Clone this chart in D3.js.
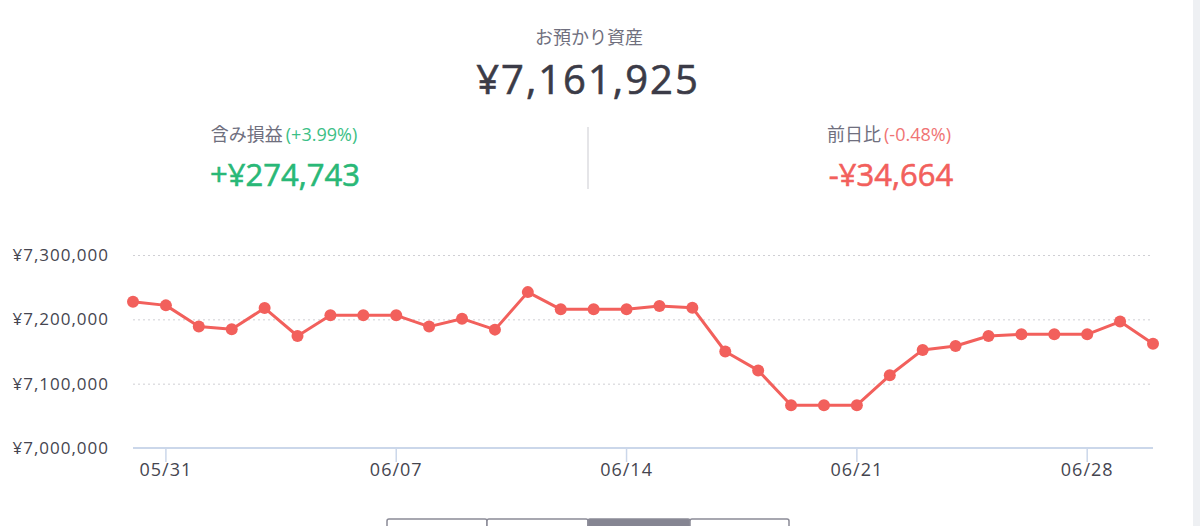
<!DOCTYPE html>
<html>
<head>
<meta charset="utf-8">
<script src="https://cdn.jsdelivr.net/npm/d3@7"></script>
<style>
  html, body { margin: 0; padding: 0; background: #fff; }
  svg { display: block; font-family: "Open Sans", "Noto Sans CJK JP", sans-serif; }
  .label { fill: #6f6f7e; font-size: 18px; }
  .grid line { stroke: #cfcfd4; stroke-dasharray: 2,3; }
  .axis-line { stroke: #cbd7ea; stroke-width: 2; }
  .tick-text { fill: #45454f; font-size: 17px; letter-spacing: 1px; }
</style>
</head>
<body>
<svg id="chart" width="1200" height="526"></svg>
<script>
// summary figures
var totalAsset = 7161925;
var gainAmount = 274743,  gainPct = "+3.99%";
var dayChange = -34664,   dayPct = "-0.48%";

// daily balance 05/30 .. 06/30
var dates = ["2020-05-30","2020-05-31","2020-06-01","2020-06-02","2020-06-03","2020-06-04","2020-06-05","2020-06-06",
             "2020-06-07","2020-06-08","2020-06-09","2020-06-10","2020-06-11","2020-06-12","2020-06-13","2020-06-14",
             "2020-06-15","2020-06-16","2020-06-17","2020-06-18","2020-06-19","2020-06-20","2020-06-21","2020-06-22",
             "2020-06-23","2020-06-24","2020-06-25","2020-06-26","2020-06-27","2020-06-28","2020-06-29","2020-06-30"];
var balances = [7227400, 7221700, 7188700, 7184500, 7217500, 7174100, 7206200, 7206200,
                7206200, 7188700, 7201000, 7184000, 7242300, 7215500, 7215500, 7215500,
                7220600, 7218100, 7150000, 7120600, 7066500, 7066500, 7066500, 7113000,
                7152500, 7158600, 7174100, 7176700, 7176700, 7176700, 7196589, 7161925];

var yTicks = [7000000, 7100000, 7200000, 7300000];
var xTicks = ["2020-05-31", "2020-06-07", "2020-06-14", "2020-06-21", "2020-06-28"];

var GREEN = "#29b877", RED = "#f2605c";
var parseDate = d3.timeParse("%Y-%m-%d");
var YEN = d3.format(",");

var svg = d3.select("#chart");

// ---- header ----
svg.append("text").attr("class", "label")
    .attr("x", 589).attr("y", 44).attr("text-anchor", "middle")
    .text("お預かり資産");

svg.append("text")
    .attr("x", 588).attr("y", 94).attr("text-anchor", "middle")
    .attr("fill", "#3b3b47").attr("stroke", "#3b3b47").attr("stroke-width", 0.6)
    .style("font-size", "40px").style("letter-spacing", "2px")
    .text("¥" + YEN(totalAsset));

var gainLabel = svg.append("text").attr("class", "label")
    .attr("x", 284).attr("y", 141).attr("text-anchor", "middle");
gainLabel.append("tspan").text("含み損益");
gainLabel.append("tspan").attr("dx", 3).attr("fill", "#3cbf86").text("(" + gainPct + ")");

svg.append("text")
    .attr("x", 285).attr("y", 186).attr("text-anchor", "middle")
    .attr("fill", GREEN).attr("stroke", GREEN).attr("stroke-width", 0.6)
    .style("font-size", "31px")
    .text("+¥" + YEN(gainAmount));

var dayLabel = svg.append("text").attr("class", "label")
    .attr("x", 889).attr("y", 141).attr("text-anchor", "middle");
dayLabel.append("tspan").text("前日比");
dayLabel.append("tspan").attr("dx", 3).attr("fill", "#f07474").text("(" + dayPct + ")");

svg.append("text")
    .attr("x", 891).attr("y", 186).attr("text-anchor", "middle")
    .attr("fill", RED).attr("stroke", RED).attr("stroke-width", 0.6)
    .style("font-size", "31px")
    .text("-¥" + YEN(Math.abs(dayChange)));

svg.append("line")
    .attr("x1", 588).attr("x2", 588).attr("y1", 127).attr("y2", 189)
    .attr("stroke", "#dcdce0").attr("stroke-width", 1.5);

// ---- chart ----
var x = d3.scaleTime()
    .domain([parseDate(dates[0]), parseDate(dates[dates.length - 1])])
    .range([133, 1153]);

var y = d3.scaleLinear()
    .domain([7000000, 7300000])
    .range([448, 255]);

// dotted gridlines
svg.append("g").attr("class", "grid")
    .selectAll("line")
    .data(yTicks.slice(1))
    .enter().append("line")
    .attr("x1", x.range()[0]).attr("x2", x.range()[1])
    .attr("y1", function(d) { return y(d) + 0.5; })
    .attr("y2", function(d) { return y(d) + 0.5; });

// y labels
svg.append("g")
    .selectAll("text")
    .data(yTicks)
    .enter().append("text")
    .attr("class", "tick-text")
    .attr("x", 109).attr("y", function(d) { return y(d); })
    .attr("dy", "0.35em").attr("text-anchor", "end")
    .text(function(d) { return "¥" + YEN(d); });

// x axis
svg.append("line").attr("class", "axis-line")
    .attr("x1", x.range()[0]).attr("x2", x.range()[1])
    .attr("y1", y(7000000)).attr("y2", y(7000000));

var xt = svg.append("g")
    .selectAll("g")
    .data(xTicks)
    .enter().append("g")
    .attr("transform", function(d) { return "translate(" + x(parseDate(d)) + ",0)"; });
xt.append("line")
    .attr("y1", y(7000000)).attr("y2", y(7000000) + 14)
    .attr("stroke", "#cbd7ea").attr("stroke-width", 1.5);
xt.append("text").attr("class", "tick-text")
    .attr("y", 476).attr("text-anchor", "middle")
    .style("font-size", "18px")
    .text(function(d) { return d3.timeFormat("%m/%d")(parseDate(d)); });

// line + dots
var series = dates.map(function(d, i) { return { date: parseDate(d), value: balances[i] }; });

svg.append("path")
    .datum(series)
    .attr("fill", "none")
    .attr("stroke", RED)
    .attr("stroke-width", 3)
    .attr("stroke-linejoin", "round")
    .attr("d", d3.line()
        .x(function(d) { return x(d.date); })
        .y(function(d) { return y(d.value); }));

svg.append("g")
    .selectAll("circle")
    .data(series)
    .enter().append("circle")
    .attr("cx", function(d) { return x(d.date); })
    .attr("cy", function(d) { return y(d.value); })
    .attr("r", 6)
    .attr("fill", RED);

// period selector (only its top edge is in view)
var tabs = svg.append("g");
[[387, 487, false], [487, 588, false], [588, 690, true], [690, 789, false]].forEach(function(t) {
    tabs.append("rect")
        .attr("x", t[0]).attr("y", 519).attr("width", t[1] - t[0]).attr("height", 20)
        .attr("rx", 2)
        .attr("fill", t[2] ? "#858592" : "#fff")
        .attr("stroke", "#8a8a96").attr("stroke-width", 1.5);
});

// scrollbar strip at the right edge
svg.append("rect")
    .attr("x", 1193).attr("y", 0).attr("width", 7).attr("height", 526)
    .attr("fill", "#eef0f3");
</script>
</body>
</html>
